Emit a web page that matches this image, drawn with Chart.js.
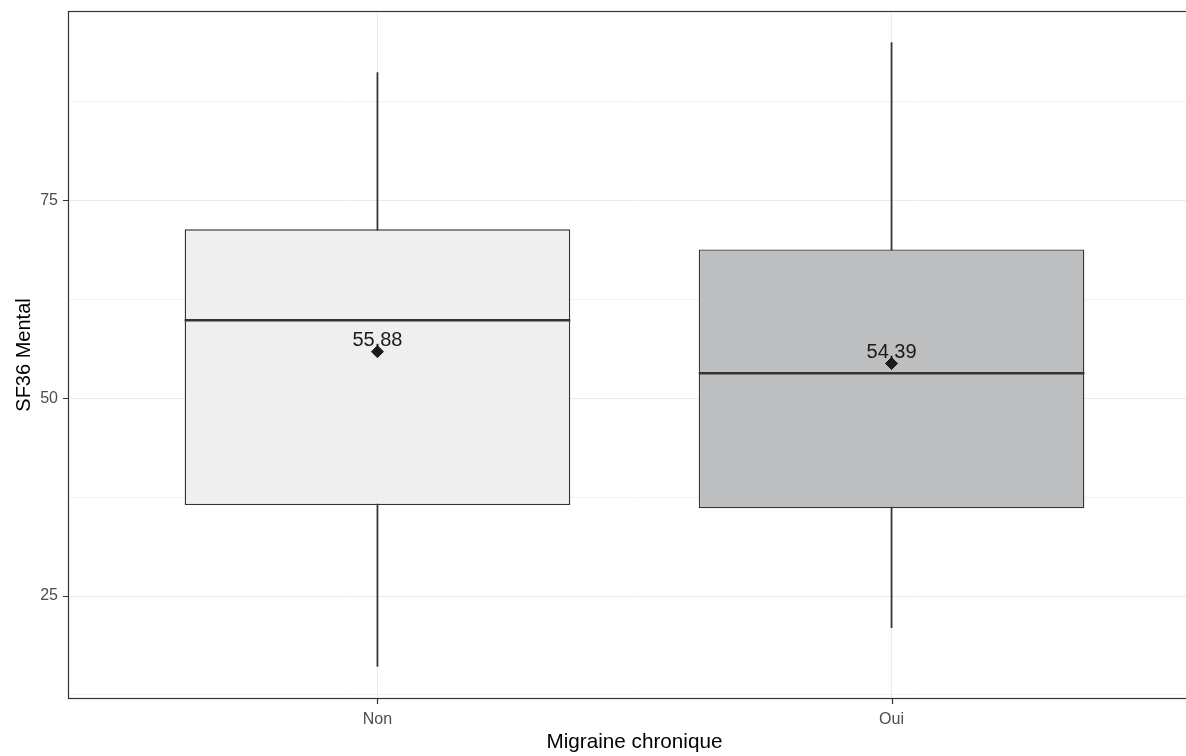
<!DOCTYPE html>
<html>
<head>
<meta charset="utf-8">
<script src="https://cdn.jsdelivr.net/npm/chart.js@4.4.1/dist/chart.umd.min.js"></script>
<style>
  html, body { margin: 0; padding: 0; background: #fff; overflow: hidden; }
  canvas { display: block; }
</style>
</head>
<body>
<canvas id="boxplot" width="1207" height="756"></canvas>
<script>
// Box plot values (SF36 Mental by chronic migraine)
const CATEGORIES = ["Non", "Oui"];
const WHISKER_LOW = [16.1, 21.0];
const Q1 = [36.5, 36.1];
const MEDIAN = [59.85, 53.15];
const Q3 = [71.35, 68.8];
const WHISKER_HIGH = [91.15, 94.95];
const MEANS = [55.88, 54.39];
const BOX_FILLS = ["#EEEFEE", "#BDBEC0"];

const Y_TICKS = [12.5, 25, 37.5, 50, 62.5, 75, 87.5]; // major + minor grid
const Y_MIN = 12.12;
const Y_MAX = 98.8;

const xs = CATEGORIES.map((c, i) => i + 1);

// no extra label padding, keep the panel where ggplot put it
function noPadding(scale) {
  scale.paddingTop = 0;
  scale.paddingBottom = 0;
  scale.paddingLeft = 0;
  scale.paddingRight = 0;
}

// median lines + mean labels, drawn right after the boxes (under the diamonds)
const boxExtras = {
  id: "boxExtras",
  afterDatasetDraw(chart, args) {
    if (args.index !== 1) return;
    const ctx = chart.ctx;
    const y = chart.scales.y;
    const meta = chart.getDatasetMeta(1);
    ctx.save();
    meta.data.forEach((bar, i) => {
      const py = y.getPixelForValue(MEDIAN[i]);
      ctx.strokeStyle = "#333333";
      ctx.lineWidth = 2.5;
      ctx.beginPath();
      ctx.moveTo(bar.x - bar.width / 2, py);
      ctx.lineTo(bar.x + bar.width / 2, py);
      ctx.stroke();

      const my = y.getPixelForValue(MEANS[i]);
      ctx.fillStyle = "#1a1a1a";
      ctx.font = "20px 'Liberation Sans', Arial, sans-serif";
      ctx.textAlign = "center";
      ctx.textBaseline = "alphabetic";
      ctx.fillText(MEANS[i].toFixed(2), bar.x, my - 5.5);
    });
    ctx.restore();
  },
  afterDraw(chart) {
    const { left, top, right, bottom } = chart.chartArea;
    const ctx = chart.ctx;
    ctx.save();
    ctx.strokeStyle = "#333333";
    ctx.lineWidth = 1.2;
    ctx.strokeRect(left - 0.5, top - 0.5, right - left + 1, bottom - top + 1);
    // axis tick marks
    ctx.beginPath();
    chart.scales.y.ticks.forEach(t => {
      if (t.value % 25 !== 0) return;
      const py = Math.round(chart.scales.y.getPixelForValue(t.value)) + 0.5;
      ctx.moveTo(left - 6, py);
      ctx.lineTo(left, py);
    });
    chart.scales.x.ticks.forEach(t => {
      const px = Math.round(chart.scales.x.getPixelForValue(t.value)) + 0.5;
      ctx.moveTo(px, bottom);
      ctx.lineTo(px, bottom + 6);
    });
    ctx.stroke();
    ctx.restore();
  }
};

const config = {
  type: "bar",
  data: {
    datasets: [
      {
        type: "scatter",
        label: "mean",
        data: xs.map((x, i) => ({ x: x, y: MEANS[i] })),
        pointStyle: "rectRot",
        pointRadius: 6,
        pointBorderWidth: 1,
        backgroundColor: "#1a1a1a",
        borderColor: "#1a1a1a"
      },
      {
        label: "box",
        data: xs.map((x, i) => ({ x: x, y: [Q1[i], Q3[i]] })),
        backgroundColor: BOX_FILLS,
        borderColor: "#333333",
        borderWidth: 1.4,
        borderSkipped: false,
        grouped: false,
        categoryPercentage: 1,
        barPercentage: 0.75
      },
      {
        label: "whisker",
        data: xs.map((x, i) => ({ x: x, y: [WHISKER_LOW[i], WHISKER_HIGH[i]] })),
        backgroundColor: "#333333",
        borderWidth: 0,
        grouped: false,
        barThickness: 1.1
      }
    ]
  },
  options: {
    responsive: false,
    animation: false,
    layout: { padding: { top: 12, right: 1, left: 0, bottom: 0 } },
    plugins: {
      legend: { display: false },
      tooltip: { enabled: false }
    },
    scales: {
      x: {
        type: "linear",
        min: 0.4,
        max: 2.6,
        offset: false,
        afterBuildTicks: (scale) => { scale.ticks = xs.map(v => ({ value: v })); },
        afterFit: (scale) => { scale.height = 58; noPadding(scale); },
        ticks: {
          callback: (v) => CATEGORIES[v - 1],
          color: "#4D4D4D",
          font: { family: "'Liberation Sans', Arial, sans-serif", size: 16 },
          padding: 7,
          maxRotation: 0
        },
        grid: {
          offset: false,
          color: "#EBEBEB",
          lineWidth: 1,
          drawTicks: true,
          tickColor: "rgba(0,0,0,0)",
          tickLength: 5
        },
        border: { display: false },
        title: {
          display: true,
          text: "Migraine chronique",
          color: "#000000",
          font: { family: "'Liberation Sans', Arial, sans-serif", size: 20.7 },
          padding: { top: 0, bottom: 1 }
        }
      },
      y: {
        min: Y_MIN,
        max: Y_MAX,
        beginAtZero: false,
        afterBuildTicks: (scale) => { scale.ticks = Y_TICKS.map(v => ({ value: v })); },
        afterFit: (scale) => { scale.width = 69; noPadding(scale); },
        ticks: {
          callback: (v) => (v % 25 === 0 ? String(v) : ""),
          color: "#4D4D4D",
          font: { family: "'Liberation Sans', Arial, sans-serif", size: 16 },
          padding: 6
        },
        grid: {
          color: "#EBEBEB",
          lineWidth: (ctx) => (ctx.tick && ctx.tick.value % 25 === 0 ? 1 : 0.6),
          drawTicks: true,
          tickColor: "rgba(0,0,0,0)",
          tickLength: 5
        },
        border: { display: false },
        title: {
          display: true,
          text: "SF36 Mental",
          color: "#000000",
          font: { family: "'Liberation Sans', Arial, sans-serif", size: 20 },
          padding: { top: 12, bottom: 0 }
        }
      }
    }
  },
  plugins: [boxExtras]
};

new Chart(document.getElementById("boxplot").getContext("2d"), config);
</script>
</body>
</html>
